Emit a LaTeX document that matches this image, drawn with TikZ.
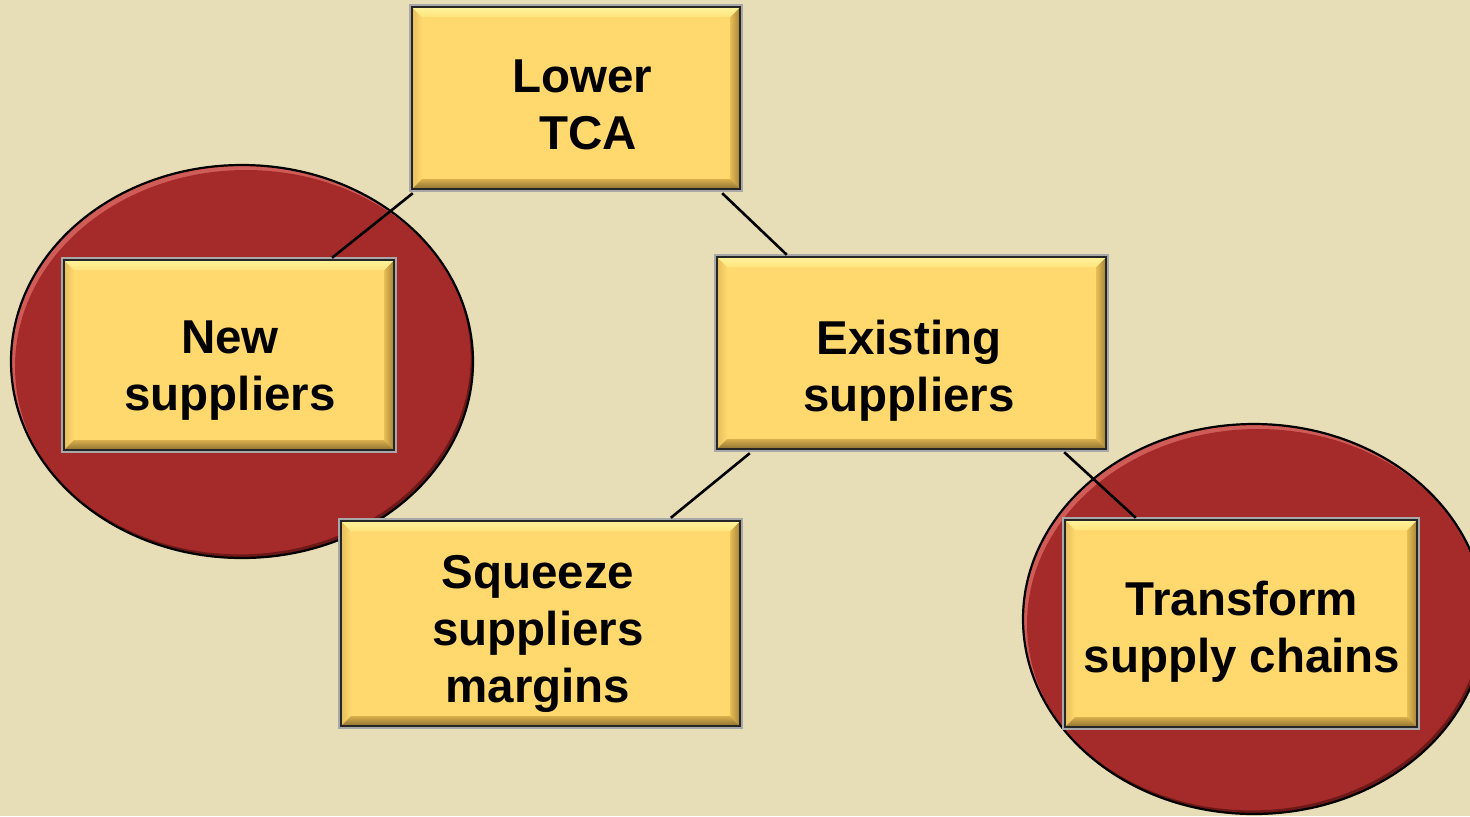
\documentclass[tikz,border=0pt]{standalone}
\usepackage{fontspec}
\setmainfont{Liberation Sans}
\definecolor{bg}{HTML}{E7DEB7}
\definecolor{boxfill}{HTML}{FFD96E}
\definecolor{boxline}{HTML}{262626}
\definecolor{boxouter}{HTML}{A8A8A8}
\definecolor{bevtopA}{HTML}{FFF39C}
\definecolor{bevtopB}{HTML}{FFE47E}
\definecolor{bevbotA}{HTML}{D9AE4C}
\definecolor{bevbotB}{HTML}{8E7232}
\definecolor{bevrA}{HTML}{E9BE55}
\definecolor{bevrB}{HTML}{A38437}
\definecolor{bevlA}{HTML}{E6BD5C}
\definecolor{ellred}{HTML}{A52B2A}
\definecolor{ellrim}{HTML}{D05C58}
\definecolor{ellshade}{HTML}{6A1918}
\newcommand\myEllipse[4]{%
  \begin{scope}
    \clip (#1,#2) ellipse [x radius=#3, y radius=#4];
    \fill[ellrim] (#1,#2) ellipse [x radius=#3, y radius=#4];
    \fill[ellred] ([shift={(2pt,-2.5pt)}]#1,#2) ellipse [x radius=#3, y radius=#4];
    \fill[ellshade, even odd rule] (#1,#2) ellipse [x radius=#3, y radius=#4]
      ([shift={(-1.2pt,1.8pt)}]#1,#2) ellipse [x radius=#3, y radius=#4];
  \end{scope}
  \draw[black, line width=1.1pt] (#1,#2) ellipse [x radius=#3, y radius=#4];
}
\begin{document}
\begin{tikzpicture}[x=0.5pt,y=-0.5pt,
  bx/.style={rectangle, inner sep=0pt, fill=boxfill, draw=boxline, line width=1.2pt,
    preaction={draw=boxouter, line width=2.8pt},
    path picture={
      \path (path picture bounding box.north west) coordinate (pNW)
            (path picture bounding box.north east) coordinate (pNE)
            (path picture bounding box.south east) coordinate (pSE)
            (path picture bounding box.south west) coordinate (pSW);
      \shade[left color=bevlA, right color=boxfill]
        (pNW) -- ([shift={(5pt,-5pt)}]pNW) -- ([shift={(5pt,5pt)}]pSW) -- (pSW) -- cycle;
      \shade[left color=bevrA, right color=bevrB]
        (pNE) -- ([shift={(-5pt,-5pt)}]pNE) -- ([shift={(-5pt,5pt)}]pSE) -- (pSE) -- cycle;
      \shade[top color=bevtopA, bottom color=bevtopB]
        (pNW) -- (pNE) -- ([shift={(-5pt,-5pt)}]pNE) -- ([shift={(5pt,-5pt)}]pNW) -- cycle;
      \shade[top color=bevbotA, bottom color=bevbotB]
        (pSW) -- (pSE) -- ([shift={(-5pt,5pt)}]pSE) -- ([shift={(5pt,5pt)}]pSW) -- cycle;
    }},
  lbl/.style={font=\fontsize{23.75pt}{28.5pt}\selectfont\bfseries, align=center,
    inner sep=0pt, anchor=base, text=black},
  conn/.style={draw=black, line width=1.3pt}]
\useasboundingbox (0,0) rectangle (1470,816);
\fill[bg] (0,0) rectangle (1470,816);

% ellipses
\myEllipse{242}{361.5}{115.5pt}{98.25pt}
\myEllipse{1254}{619}{115.5pt}{97.5pt}

% boxes
\node[bx, minimum width=164pt, minimum height=91pt] (tca) at (576,98) {};
\node[bx, minimum width=165pt, minimum height=95pt] (new) at (229,355) {};
\node[bx, minimum width=194.5pt, minimum height=96pt] (exist) at (911.5,353) {};
\node[bx, minimum width=199.5pt, minimum height=102.5pt] (sq) at (540.5,623.5) {};
\node[bx, minimum width=176pt, minimum height=103.5pt] (tr) at (1241,623.5) {};

% labels (anchor base = baseline of last line)
\node[lbl] (tcaL) at (582,149.5) {Lower\\\hspace*{6pt}TCA};
\node[lbl] (newL) at (230,410) {New\\suppliers};
\node[lbl] (existL) at (909,411) {Existing\\suppliers};
\node[lbl] (sqL) at (538,702) {Squeeze\\suppliers\\margins};
\node[lbl] (trL) at (1242,672) {Transform\\supply chains};

% connectors
\coordinate (c1a) at ([shift={(2,3)}]tca.south west);
\coordinate (c1b) at ([shift={(103,-1)}]new.north);
\coordinate (c2a) at ([shift={(-19,3)}]tca.south east);
\coordinate (c2b) at ([shift={(71,-1)}]exist.north west);
\coordinate (c3a) at ([shift={(34,3)}]exist.south west);
\coordinate (c3b) at ([shift={(331,-2)}]sq.north west);
\coordinate (c4a) at ([shift={(-43,2)}]exist.south east);
\coordinate (c4b) at ([shift={(72,-1)}]tr.north west);
\draw[conn] (c1a) -- (c1b);
\draw[conn] (c2a) -- (c2b);
\draw[conn] (c3a) -- (c3b);
\draw[conn] (c4a) -- (c4b);
\end{tikzpicture}
\end{document}
